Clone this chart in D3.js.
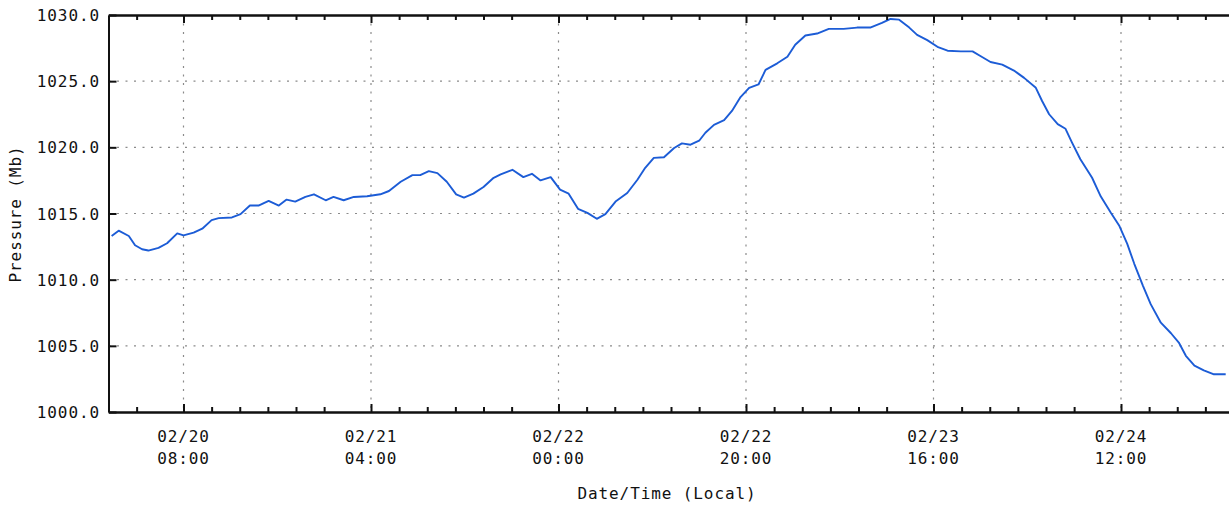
<!DOCTYPE html>
<html>
<head>
<meta charset="utf-8">
<script src="https://cdn.jsdelivr.net/npm/d3@7"></script>
<style>
    html, body { margin: 0; padding: 0; background: #fff; }
    svg { display: block; }
    text { font-family: "DejaVu Sans Mono", "Liberation Mono", monospace; fill: #111; }
</style>
</head>
<body>
<svg id="chart" width="1229" height="515"></svg>
<script>
// readings, local time
var times = [
    "02/20 00:20", "02/20 01:05", "02/20 02:10", "02/20 02:50", "02/20 03:35", "02/20 04:15",
    "02/20 05:20", "02/20 06:15", "02/20 07:20", "02/20 08:00", "02/20 09:05", "02/20 10:00",
    "02/20 11:00", "02/20 11:45", "02/20 13:10", "02/20 14:05", "02/20 15:05", "02/20 16:00",
    "02/20 17:05", "02/20 18:10", "02/20 19:00", "02/20 19:55", "02/20 21:00", "02/20 21:55",
    "02/20 23:10", "02/21 00:00", "02/21 01:05", "02/21 02:10", "02/21 03:35", "02/21 05:00",
    "02/21 05:55", "02/21 07:10", "02/21 08:25", "02/21 09:15", "02/21 10:10", "02/21 11:05",
    "02/21 12:05", "02/21 13:05", "02/21 13:55", "02/21 14:55", "02/21 16:00", "02/21 17:05",
    "02/21 17:50", "02/21 19:05", "02/21 20:15", "02/21 21:10", "02/21 22:05", "02/21 23:10",
    "02/22 00:10", "02/22 01:05", "02/22 02:05", "02/22 03:05", "02/22 04:05", "02/22 05:00",
    "02/22 06:05", "02/22 07:20", "02/22 08:25", "02/22 09:15", "02/22 10:10", "02/22 11:15",
    "02/22 12:20", "02/22 13:10", "02/22 14:05", "02/22 15:00", "02/22 15:40", "02/22 16:35",
    "02/22 17:40", "02/22 18:30", "02/22 19:25", "02/22 20:20", "02/22 21:20", "02/22 22:05",
    "02/22 23:20", "02/23 00:25", "02/23 01:15", "02/23 02:20", "02/23 03:35", "02/23 04:50",
    "02/23 06:25", "02/23 07:50", "02/23 09:15", "02/23 10:30", "02/23 11:25", "02/23 12:20",
    "02/23 13:25", "02/23 14:15", "02/23 15:20", "02/23 16:25", "02/23 17:30", "02/23 18:55",
    "02/23 20:10", "02/23 21:00", "02/23 22:05", "02/23 23:20", "02/24 00:35", "02/24 01:40",
    "02/24 02:55", "02/24 03:35", "02/24 04:20", "02/24 05:15", "02/24 06:05", "02/24 06:45",
    "02/24 07:40", "02/24 08:55", "02/24 09:50", "02/24 10:55", "02/24 11:50", "02/24 12:40",
    "02/24 13:25", "02/24 14:20", "02/24 15:10", "02/24 16:15", "02/24 17:20", "02/24 18:10",
    "02/24 18:55", "02/24 19:50", "02/24 20:50", "02/24 21:55", "02/24 23:10"
];
var pressure = [
    1013.3, 1013.7, 1013.3, 1012.6, 1012.3, 1012.2,
    1012.4, 1012.75, 1013.5, 1013.35, 1013.55, 1013.85,
    1014.5, 1014.65, 1014.7, 1014.95, 1015.6, 1015.6,
    1015.95, 1015.6, 1016.05, 1015.9, 1016.25, 1016.45,
    1016.0, 1016.25, 1016.0, 1016.25, 1016.3, 1016.45,
    1016.7, 1017.4, 1017.9, 1017.9, 1018.2, 1018.05,
    1017.4, 1016.45, 1016.2, 1016.5, 1017.0, 1017.7,
    1017.95, 1018.3, 1017.75, 1018.0, 1017.5, 1017.75,
    1016.8, 1016.5, 1015.35, 1015.05, 1014.6, 1014.95,
    1015.9, 1016.55, 1017.55, 1018.45, 1019.2, 1019.25,
    1019.95, 1020.3, 1020.2, 1020.5, 1021.1, 1021.7,
    1022.05, 1022.75, 1023.8, 1024.5, 1024.75, 1025.85,
    1026.35, 1026.85, 1027.75, 1028.45, 1028.6, 1028.95,
    1028.95, 1029.05, 1029.05, 1029.4, 1029.7, 1029.65,
    1029.05, 1028.5, 1028.1, 1027.6, 1027.3, 1027.25,
    1027.25, 1026.9, 1026.45, 1026.25, 1025.8, 1025.25,
    1024.5, 1023.5, 1022.5, 1021.75, 1021.4, 1020.4,
    1019.1, 1017.7, 1016.3, 1015.05, 1014.05, 1012.7,
    1011.2, 1009.55, 1008.15, 1006.75, 1005.95, 1005.25,
    1004.25, 1003.5, 1003.15, 1002.85, 1002.85
];
var yTicks = [1000, 1005, 1010, 1015, 1020, 1025, 1030];
var xTickLabels = ["02/20 08:00", "02/21 04:00", "02/22 00:00", "02/22 20:00", "02/23 16:00", "02/24 12:00"];
var xDomain = ["02/20 00:00", "02/25 00:00"];

function makeChart() {
    var parse = d3.utcParse("%m/%d %H:%M");
    var left = 108.5, right = 1233.5, top = 15, bottom = 412;

    var data = times.map((t, i) => ({ t: parse(t), p: pressure[i] }));
    var majors = xTickLabels.map(parse);
    var dom = xDomain.map(parse);

    // minor ticks every 3 hours after each major one, kept inside the frame
    var minors = [];
    [d3.utcHour.offset(majors[0], -20)].concat(majors).forEach(function (m) {
        for (var k = 1; k <= 5; k++) minors.push(d3.utcHour.offset(m, 3 * k));
    });
    minors = minors.filter(d => d > dom[0] && d < dom[1]);

    var scX = d3.scaleUtc().domain(dom).range([left, right]);
    var scY = d3.scaleLinear().domain([1000, 1030]).range([bottom, top]);

    var svg = d3.select("#chart");

    // dotted grid
    var grid = svg.append("g")
        .attr("stroke", "#8a8a8a").attr("stroke-width", 1.2)
        .attr("stroke-dasharray", "2,6.5");
    grid.selectAll("line.h").data(yTicks.slice(1, -1)).enter().append("line")
        .attr("x1", left).attr("x2", right)
        .attr("y1", d => scY(d)).attr("y2", d => scY(d));
    grid.selectAll("line.v").data(majors).enter().append("line")
        .attr("x1", d => scX(d)).attr("x2", d => scX(d))
        .attr("y1", top).attr("y2", bottom);

    // pressure trace
    var lineMaker = d3.line()
        .x(d => scX(d.t))
        .y(d => scY(d.p));
    svg.append("path")
        .attr("fill", "none").attr("stroke", "#1c5cd6")
        .attr("stroke-width", 1.9).attr("stroke-linejoin", "round")
        .attr("d", lineMaker(data));

    // frame with inward ticks
    function styleAxis(g) {
        g.select(".domain").attr("stroke", "#111").attr("stroke-width", 2);
        g.selectAll(".tick line").attr("stroke", "#111").attr("stroke-width", 2);
    }
    svg.append("g").attr("transform", "translate(0," + bottom + ")")
        .call(d3.axisBottom(scX).tickValues(majors).tickSize(-8).tickSizeOuter(0).tickFormat(""))
        .call(styleAxis);
    svg.append("g").attr("transform", "translate(0," + bottom + ")")
        .call(d3.axisBottom(scX).tickValues(minors).tickSize(-5).tickSizeOuter(0).tickFormat(""))
        .call(styleAxis);
    svg.append("g").attr("transform", "translate(0," + top + ")")
        .call(d3.axisTop(scX).tickValues(majors).tickSize(-8).tickSizeOuter(0).tickFormat(""))
        .call(styleAxis);
    svg.append("g").attr("transform", "translate(0," + top + ")")
        .call(d3.axisTop(scX).tickValues(minors).tickSize(-5).tickSizeOuter(0).tickFormat(""))
        .call(styleAxis);
    svg.append("g").attr("transform", "translate(" + left + ",0)")
        .call(d3.axisLeft(scY).tickValues(yTicks).tickSize(-8).tickSizeOuter(0).tickFormat(""))
        .call(styleAxis);

    // y tick labels
    svg.append("g").selectAll("text").data(yTicks).enter().append("text")
        .attr("x", 100).attr("y", d => scY(d) + 6)
        .attr("text-anchor", "end")
        .attr("font-size", 16).attr("letter-spacing", 0.9)
        .text(d => d3.format(".1f")(d));

    // two-line x tick labels
    var xl = svg.append("g").selectAll("text").data(xTickLabels).enter().append("text")
        .attr("text-anchor", "middle")
        .attr("font-size", 16).attr("letter-spacing", 0.9);
    xl.append("tspan").attr("x", d => scX(parse(d))).attr("y", 442).text(d => d.split(" ")[0]);
    xl.append("tspan").attr("x", d => scX(parse(d))).attr("y", 464).text(d => d.split(" ")[1]);

    svg.append("text")
        .attr("x", 667).attr("y", 499)
        .attr("text-anchor", "middle")
        .attr("font-size", 16).attr("letter-spacing", 0.9)
        .text("Date/Time (Local)");

    svg.append("text")
        .attr("transform", "translate(21,214) rotate(-90)")
        .attr("text-anchor", "middle")
        .attr("font-size", 16).attr("letter-spacing", 0.9)
        .text("Pressure (Mb)");
}

makeChart();
</script>
</body>
</html>
